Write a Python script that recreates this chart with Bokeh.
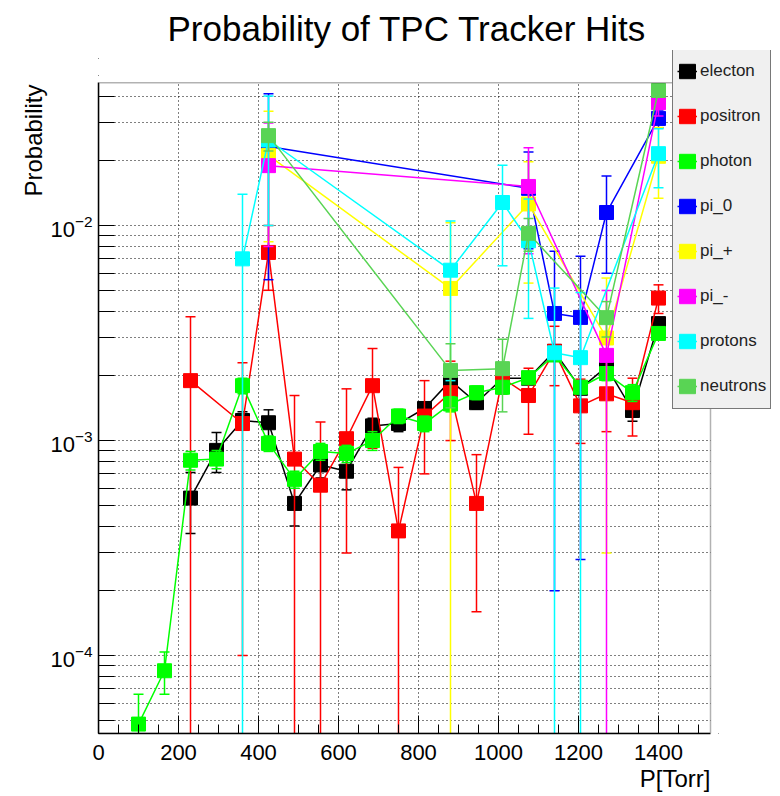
from bokeh.plotting import figure
from bokeh.models import (Range1d, FixedTicker, ColumnDataSource, Legend, LegendItem, Title,
                          BoxAnnotation)
from bokeh.embed import file_html
from bokeh.resources import INLINE

FONT = "Liberation Sans"

# ---------------- data ----------------
x_major = [0, 200, 400, 600, 800, 1000, 1200, 1400]
x_minor = list(range(0, 1551, 50))
y_major = [1e-4, 1e-3, 1e-2]
y_minor = [k * 10.0 ** e for e in (-5, -4, -3, -2) for k in range(2, 10)]
x_axis_span = (0, 1530)          # drawn axis extent
y_axis_span = (4.34e-5, 0.0462)

electron_x = [230, 295, 360, 425, 490, 555, 620, 685, 750, 815, 880, 945, 1010, 1075, 1140, 1205, 1270, 1335, 1400]
electron_y = [5.4e-4, 9.0e-4, 1.24e-3, 1.21e-3, 5.1e-4, 7.7e-4, 7.2e-4, 1.17e-3, 1.2e-3, 1.41e-3, 1.9e-3, 1.5e-3, 1.95e-3, 1.95e-3, 2.6e-3, 1.75e-3, 2.2e-3, 1.38e-3, 3.5e-3]
electron_e = [1.7e-4, 1.9e-4, 1.2e-4, 1.8e-4, 1.1e-4, 1.0e-4, 1.3e-4, 1.0e-4, 1.0e-4, 1.0e-4, 1.2e-4, 1.0e-4, 1.0e-4, 1.0e-4, 1.2e-4, 1.0e-4, 1.2e-4, 1.5e-4, 2.0e-4]

positron_x = [230, 360, 425, 490, 555, 620, 685, 750, 815, 880, 945, 1010, 1075, 1140, 1205, 1270, 1335, 1400]
positron_y = [1.9e-3, 1.2e-3, 7.5e-3, 8.2e-4, 6.2e-4, 1.02e-3, 1.8e-3, 3.8e-4, 1.3e-3, 1.67e-3, 5.1e-4, 1.95e-3, 1.62e-3, 2.6e-3, 1.45e-3, 1.65e-3, 1.5e-3, 4.6e-3]
positron_e = [1.87e-3, 1.1e-3, 2.5e-3, 8.0e-4, 6.0e-4, 7.2e-4, 8.8e-4, 3.7e-4, 6.0e-4, 6.7e-4, 3.5e-4, 3.0e-4, 5.5e-4, 8.0e-4, 4.8e-4, 5.5e-4, 4.5e-4, 7.0e-4]

photon_x = [100, 165, 230, 295, 360, 425, 490, 555, 620, 685, 750, 815, 880, 945, 1010, 1075, 1140, 1205, 1270, 1335, 1400]
photon_y = [4.8e-5, 8.5e-5, 8.1e-4, 8.2e-4, 1.8e-3, 9.7e-4, 6.6e-4, 8.9e-4, 8.7e-4, 1.0e-3, 1.3e-3, 1.2e-3, 1.48e-3, 1.67e-3, 1.77e-3, 1.96e-3, 2.5e-3, 1.77e-3, 2.05e-3, 1.67e-3, 3.15e-3]
photon_e = [1.8e-5, 1.9e-5, 8e-5, 8e-5, 1.5e-4, 8e-5, 6e-5, 8e-5, 8e-5, 1e-4, 1e-4, 1e-4, 1.2e-4, 1.2e-4, 1.2e-4, 1.2e-4, 1.5e-4, 1.2e-4, 1.5e-4, 1.5e-4, 2e-4]

pi0_x = [425, 1075, 1140, 1205, 1270, 1400]
pi0_y = [2.33e-2, 1.49e-2, 3.9e-3, 3.74e-3, 1.15e-2, 3.15e-2]
pi0_e = [1.77e-2, 7.1e-3, 3.7e-3, 3.46e-3, 5.5e-3, 3.0e-3]

piplus_x = [425, 880, 1075, 1270, 1400]
piplus_y = [2.12e-2, 5.1e-3, 1.26e-2, 3.0e-3, 2.1e-2]
piplus_e = [1.28e-2, 5.2e-3, 7.2e-3, 2.7e-3, 7.6e-3]

piminus_x = [425, 1075, 1270, 1400]
piminus_y = [1.9e-2, 1.52e-2, 2.49e-3, 3.73e-2]
piminus_e = [1.1e-2, 7.8e-3, 2.5e-3, 5.0e-3]

protons_x = [360, 425, 880, 1010, 1075, 1140, 1205, 1400]
protons_y = [7.0e-3, 2.5e-2, 6.2e-3, 1.28e-2, 8.5e-3, 2.56e-3, 2.43e-3, 2.16e-2]
protons_e = [7.0e-3, 1.5e-2, 4.3e-3, 6.3e-3, 4.8e-3, 2.56e-3, 2.45e-3, 6.6e-3]

neutrons_x = [425, 880, 1010, 1075, 1270, 1400]
neutrons_y = [2.62e-2, 2.12e-3, 2.16e-3, 9.2e-3, 3.73e-3, 4.25e-2]
neutrons_e = [4e-3, 7e-4, 8e-4, 1.6e-3, 7e-4, 3e-3]

labels = ["electon", "positron", "photon", "pi_0", "pi_+", "pi_-", "protons", "neutrons"]
colors = ["#000000", "#ff0000", "#00ff00", "#0000ff", "#ffff00", "#ff00ff", "#00ffff", "#59d454"]
series = [
    (electron_x, electron_y, electron_e),
    (positron_x, positron_y, positron_e),
    (photon_x, photon_y, photon_e),
    (pi0_x, pi0_y, pi0_e),
    (piplus_x, piplus_y, piplus_e),
    (piminus_x, piminus_y, piminus_e),
    (protons_x, protons_y, protons_e),
    (neutrons_x, neutrons_y, neutrons_e),
]

# ---------------- figure ----------------
# the frame is extended right/up so the legend (which overhangs the axes box) is not clipped;
# the visible axes box is drawn at x_axis_span / y_axis_span.
p = figure(width=780, height=796, x_range=Range1d(0, 1705), y_range=Range1d(4.34e-5, 0.0652),
           y_axis_type="log", output_backend="svg", toolbar_location=None,
           min_border_left=98, min_border_right=0, min_border_top=50, min_border_bottom=63)
p.background_fill_color = "white"
p.border_fill_color = "white"
p.outline_line_color = None

p.title.text = "Probability of TPC Tracker Hits"
p.title.align = "left"
p.title.offset = 69
p.title.text_font = FONT
p.title.text_font_size = "35px"
p.title.text_font_style = "normal"
p.title.text_color = "black"
p.title.standoff = 6

for ax in (p.xaxis[0], p.yaxis[0]):
    ax.axis_line_color = "black"
    ax.axis_line_width = 1.5
    ax.major_tick_line_color = "black"
    ax.minor_tick_line_color = "black"
    ax.major_tick_out = 0
    ax.minor_tick_out = 0
    ax.major_label_text_font = FONT
    ax.major_label_text_font_size = "22px"
    ax.major_label_text_color = "black"

p.xaxis.bounds = x_axis_span
p.yaxis.bounds = y_axis_span
p.xaxis.ticker = FixedTicker(ticks=x_major, minor_ticks=x_minor)
p.xaxis.major_tick_in = 18
p.xaxis.minor_tick_in = 9
p.xaxis.major_label_standoff = 11
p.yaxis.ticker = FixedTicker(ticks=y_major, minor_ticks=y_minor)
p.yaxis.major_tick_in = 16
p.yaxis.minor_tick_in = 16
p.yaxis.major_label_standoff = 6

p.xgrid.ticker = FixedTicker(ticks=x_major)
p.xgrid.grid_line_color = "black"
p.xgrid.grid_line_dash = "1 3"
p.xgrid.grid_line_width = 1
p.ygrid.grid_line_color = "black"
p.ygrid.grid_line_dash = "1 3"
p.ygrid.grid_line_width = 1
p.ygrid.minor_grid_line_color = "black"
p.ygrid.minor_grid_line_dash = "1 3"
p.ygrid.minor_grid_line_width = 1

p.add_layout(Title(text="Probability", align="right", offset=34, text_font=FONT,
                   text_font_size="24px", text_font_style="normal", text_color="black",
                   standoff=2), "left")
p.add_layout(Title(text="P[Torr]", align="right", offset=70, text_font=FONT,
                   text_font_size="24px", text_font_style="normal", text_color="black",
                   standoff=0), "below")

items = []
for (xs, ys, es), c, lab in zip(series, colors, labels):
    lo = [max(y - e, 1e-9) for y, e in zip(ys, es)]
    hi = [y + e for y, e in zip(ys, es)]
    src = ColumnDataSource(dict(x=xs, y=ys, lo=lo, hi=hi))
    line_r = p.line("x", "y", source=src, line_color=c, line_width=1.5)
    p.segment(x0="x", y0="lo", x1="x", y1="hi", source=src, line_color=c, line_width=1.5)
    p.scatter("x", "lo", source=src, marker="dash", size=10, line_color=c, line_width=1.5)
    p.scatter("x", "hi", source=src, marker="dash", size=10, line_color=c, line_width=1.5)
    p.scatter("x", "y", source=src, marker="square", size=14, fill_color=c, line_color=c)
    key_r = p.rect(x=[float("nan")], y=[float("nan")], width=1, height=1, fill_color=c, line_color=c)
    items.append(LegendItem(label=lab, renderers=[line_r, key_r]))

# white masks outside the axes box, then the axes box outline
p.add_layout(BoxAnnotation(left=x_axis_span[1], fill_color="white", fill_alpha=1.0, line_color=None))
p.add_layout(BoxAnnotation(bottom=y_axis_span[1], fill_color="white", fill_alpha=1.0, line_color=None))
p.add_layout(BoxAnnotation(left=x_axis_span[0], right=x_axis_span[1], bottom=y_axis_span[0],
                           top=y_axis_span[1], fill_alpha=0.0, line_color="black", line_width=1.5))

legend = Legend(items=items, location=(574, 324))
legend.background_fill_color = "#f0f0f0"
legend.background_fill_alpha = 1.0
legend.border_line_color = "black"
legend.border_line_width = 1
legend.label_text_font = FONT
legend.label_text_font_size = "17px"
legend.label_text_color = "#222222"
legend.glyph_width = 20
legend.glyph_height = 18
legend.label_height = 36
legend.label_standoff = 3
legend.padding = 4
legend.spacing = 9
legend.margin = 0
p.add_layout(legend)

open("out.html", "w").write(file_html(p, INLINE))
